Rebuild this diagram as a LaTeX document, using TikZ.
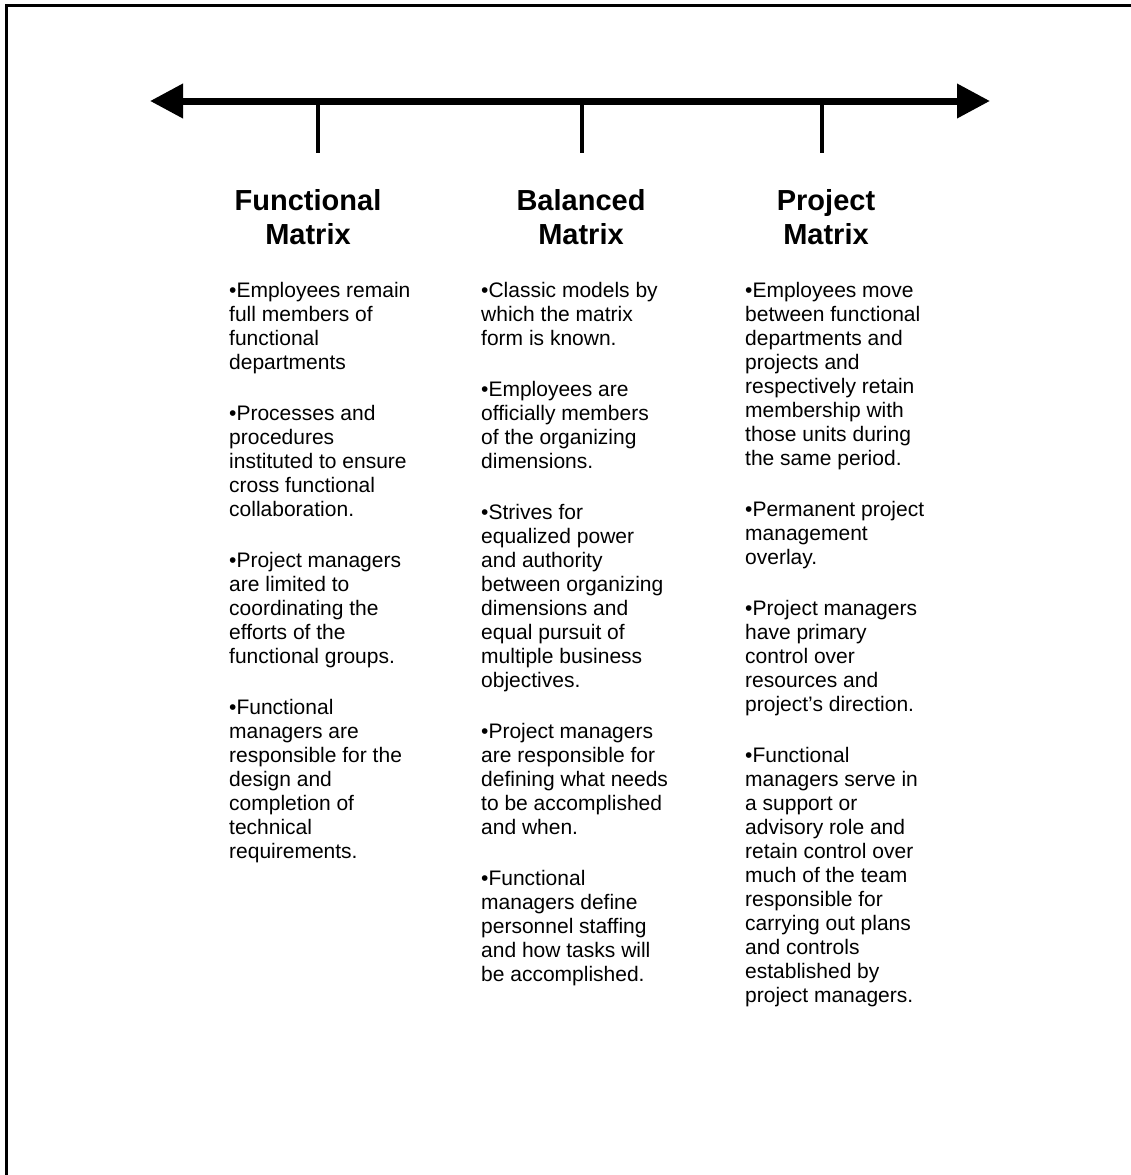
\documentclass[tikz,border=0pt]{standalone}
\usepackage{fontspec}
\setmainfont{Liberation Sans}
\usetikzlibrary{arrows.meta}
\begin{document}
\begin{tikzpicture}[x=1pt,y=-1pt,
  frame/.style={line width=3pt},
  scale line/.style={line width=7pt,
    {Triangle[length=33pt,width=33pt]}-{Triangle[length=33pt,width=33pt]}},
  tick/.style={line width=4pt},
  heading/.style={inner sep=0pt, align=center,
    font=\fontsize{29}{34}\selectfont\bfseries},
  body/.style={inner sep=0pt, anchor=north west, align=left,
    font=\fontsize{21}{24}\selectfont}]
  \useasboundingbox (0,0) rectangle (1131,1175);
  % page frame (top and left edges)
  \draw[frame] (1131,5) -- (6,5) -- (6,1175);

  % continuum line with its three marks
  \coordinate (L) at (150,101);
  \coordinate (R) at (990,101);
  \draw[scale line] (L) -- (R);
  \foreach \n/\x in {f/318,b/582,p/822}{
    \coordinate (\n top) at (\x,101);
    \coordinate (\n bot) at (\x,153);
    \draw[tick] (\n top) -- (\n bot);
  }

  % column headings
  \node[heading] (hf) at (308,217) {Functional\\Matrix};
  \node[heading] (hb) at (581,217) {Balanced\\Matrix};
  \node[heading] (hp) at (826,217) {Project\\Matrix};

  % column texts
  \node[body] (tf) at (229,282) {%
    •Employees remain\\full members of\\functional\\departments\\[27pt]
    •Processes and\\procedures\\instituted to ensure\\cross functional\\collaboration.\\[27pt]
    •Project managers\\are limited to\\coordinating the\\efforts of the\\functional groups.\\[27pt]
    •Functional\\managers are\\responsible for the\\design and\\completion of\\technical\\requirements.};

  \node[body] (tb) at (481,282) {%
    •Classic models by\\which the matrix\\form is known.\\[27pt]
    •Employees are\\officially members\\of the organizing\\dimensions.\\[27pt]
    •Strives for\\equalized power\\and authority\\between organizing\\dimensions and\\equal pursuit of\\multiple business\\objectives.\\[27pt]
    •Project managers\\are responsible for\\defining what needs\\to be accomplished\\and when.\\[27pt]
    •Functional\\managers define\\personnel staffing\\and how tasks will\\be accomplished.};

  \node[body] (tp) at (745,282) {%
    •Employees move\\between functional\\departments and\\projects and\\respectively retain\\membership with\\those units during\\the same period.\\[27pt]
    •Permanent project\\management\\overlay.\\[27pt]
    •Project managers\\have primary\\control over\\resources and\\project’s direction.\\[27pt]
    •Functional\\managers serve in\\a support or\\advisory role and\\retain control over\\much of the team\\responsible for\\carrying out plans\\and controls\\established by\\project managers.};
\end{tikzpicture}
\end{document}
